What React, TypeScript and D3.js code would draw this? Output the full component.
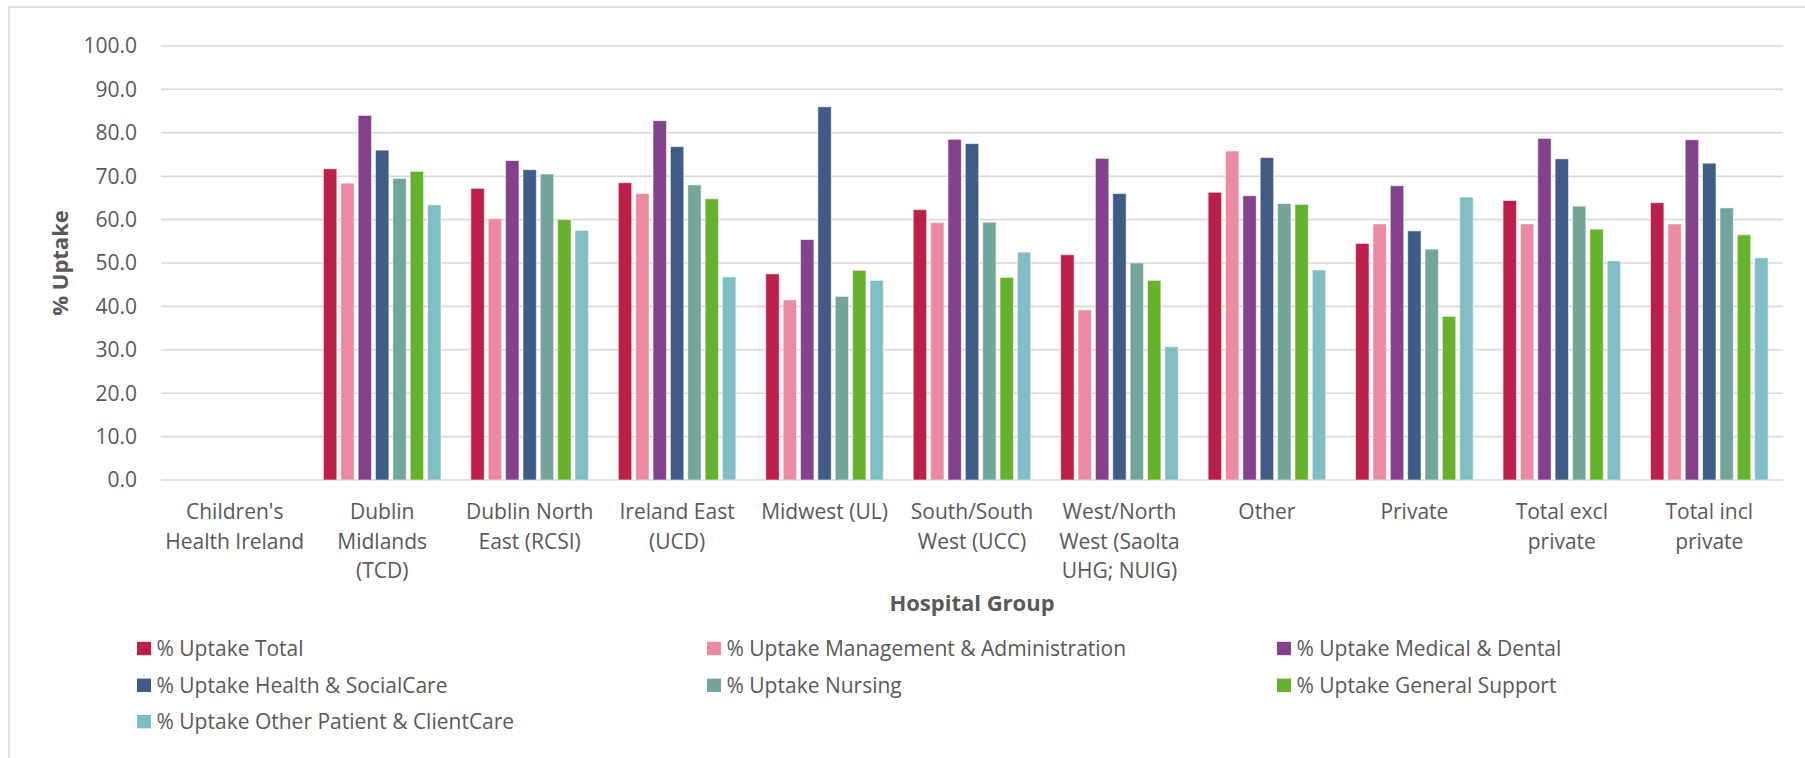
// ─ Imports ──────────────────────────────────────────────────────────────────────────────────────
import * as d3 from 'd3';
import { ReactElement } from 'react';

// ─ Data ─────────────────────────────────────────────────────────────────────────────────────────
const categories: string[][] = [
  ["Children's", 'Health Ireland'],
  ['Dublin', 'Midlands', '(TCD)'],
  ['Dublin North', 'East (RCSI)'],
  ['Ireland East', '(UCD)'],
  ['Midwest (UL)'],
  ['South/South', 'West (UCC)'],
  ['West/North', 'West (Saolta', 'UHG; NUIG)'],
  ['Other'],
  ['Private'],
  ['Total excl', 'private'],
  ['Total incl', 'private'],
];

const seriesNames = [
  '% Uptake Total',
  '% Uptake Management & Administration',
  '% Uptake Medical & Dental',
  '% Uptake Health & SocialCare',
  '% Uptake Nursing',
  '% Uptake General Support',
  '% Uptake Other Patient & ClientCare',
];

const seriesColors = ['#BC1F48', '#EC8AA4', '#84418C', '#3E5C85', '#73A59C', '#66B22C', '#7FBEC4'];

const uptakeTotal = [null, 71.7, 67.2, 68.5, 47.5, 62.3, 51.9, 66.3, 54.5, 64.4, 63.9];
const uptakeManagement = [null, 68.4, 60.2, 66.0, 41.5, 59.3, 39.2, 75.8, 59.0, 59.0, 59.0];
const uptakeMedical = [null, 84.0, 73.6, 82.8, 55.4, 78.5, 74.1, 65.5, 67.8, 78.7, 78.4];
const uptakeHealthSocial = [null, 76.0, 71.5, 76.8, 86.0, 77.5, 66.0, 74.3, 57.4, 74.0, 73.0];
const uptakeNursing = [null, 69.5, 70.5, 68.0, 42.3, 59.4, 50.0, 63.7, 53.2, 63.1, 62.7];
const uptakeGeneral = [null, 71.1, 60.0, 64.8, 48.3, 46.7, 46.0, 63.5, 37.7, 57.8, 56.5];
const uptakeOtherPatient = [null, 63.4, 57.5, 46.8, 46.0, 52.5, 30.7, 48.4, 65.2, 50.5, 51.2];

const seriesValues: (number | null)[][] = [
  uptakeTotal, uptakeManagement, uptakeMedical, uptakeHealthSocial,
  uptakeNursing, uptakeGeneral, uptakeOtherPatient,
];

const yTicks = [0, 10, 20, 30, 40, 50, 60, 70, 80, 90, 100];

// ─ Layout ───────────────────────────────────────────────────────────────────────────────────────
const WIDTH = 1805;
const HEIGHT = 758;
const plot = { left: 161, right: 1783, top: 46, bottom: 480 };
const FONT = '"Open Sans", "Liberation Sans", sans-serif';
const TEXT = '#595959';
const GRID = '#D9D9D9';

const App = (): ReactElement => {
  const keys = categories.map((_, i) => String(i));

  const x0 = d3.scaleBand<string>()
    .domain(keys)
    .range([plot.left, plot.right])
    .paddingInner(0.176)
    .paddingOuter(0.088);

  const x1 = d3.scaleBand<string>()
    .domain(seriesNames)
    .range([0, x0.bandwidth()])
    .paddingInner(0.228)
    .paddingOuter(0.114);

  const y = d3.scaleLinear().domain([0, 100]).range([plot.bottom, plot.top]);

  const step = x0.step();
  const legendCols = [137, 707, 1277];
  const legendRows = [648.5, 685.3, 721.7];

  return (
    <div style={{ position: 'fixed', left: 0, top: 0, background: '#fff' }}>
      <svg width={WIDTH} height={HEIGHT} style={{ display: 'block', fontFamily: FONT }}>
        <rect x={0} y={0} width={WIDTH} height={HEIGHT} fill="#fff" />
        {/* chart frame */}
        <rect x={9} y={7} width={WIDTH + 20} height={HEIGHT + 20} fill="none" stroke={GRID} strokeWidth={1.5} />

        {/* grid lines and y ticks */}
        {yTicks.map(t => (
          <g key={t}>
            <line x1={plot.left} x2={plot.right} y1={y(t)} y2={y(t)} stroke={GRID} strokeWidth={1.6} />
            <text x={137} y={y(t)} dy="0.35em" textAnchor="end" fontSize={21} fill={TEXT}>
              {t.toFixed(1)}
            </text>
          </g>
        ))}

        {/* bars */}
        {categories.map((_, ci) => (
          <g key={ci} transform={`translate(${x0(String(ci))},0)`}>
            {seriesNames.map((s, si) => {
              const v = seriesValues[si][ci];
              if (v === null) { return null; }
              return (
                <rect
                  key={s}
                  x={x1(s)}
                  y={y(v)}
                  width={x1.bandwidth()}
                  height={y(0) - y(v)}
                  fill={seriesColors[si]}
                  stroke="#fff"
                  strokeOpacity={0.55}
                  strokeWidth={1}
                />
              );
            })}
          </g>
        ))}

        {/* x tick labels */}
        {categories.map((lines, ci) => (
          <text
            key={ci}
            x={plot.left + step * (ci + 0.5)}
            y={512}
            textAnchor="middle"
            fontSize={21}
            fill={TEXT}
          >
            {lines.map((ln, li) => (
              <tspan key={li} x={plot.left + step * (ci + 0.5)} dy={li === 0 ? '0.35em' : 29.5}>{ln}</tspan>
            ))}
          </text>
        ))}

        {/* axis titles */}
        <text
          transform={`translate(60,${(plot.top + plot.bottom) / 2}) rotate(-90)`}
          dy="0.35em"
          textAnchor="middle"
          fontSize={22}
          fontWeight="bold"
          fill={TEXT}
        >
          % Uptake
        </text>
        <text
          x={(plot.left + plot.right) / 2}
          y={603}
          dy="0.35em"
          textAnchor="middle"
          fontSize={22}
          fontWeight="bold"
          fill={TEXT}
        >
          Hospital Group
        </text>

        {/* legend */}
        {seriesNames.map((s, i) => {
          const lx = legendCols[i % 3];
          const ly = legendRows[Math.floor(i / 3)];
          return (
            <g key={s}>
              <rect x={lx} y={ly - 6.7} width={14} height={13.4} fill={seriesColors[i]} />
              <text x={lx + 19.5} y={ly} dy="0.35em" fontSize={21} fill={TEXT}>{s}</text>
            </g>
          );
        })}
      </svg>
    </div>
  );
};

// ─ Exports ──────────────────────────────────────────────────────────────────────────────────────
export default App;
